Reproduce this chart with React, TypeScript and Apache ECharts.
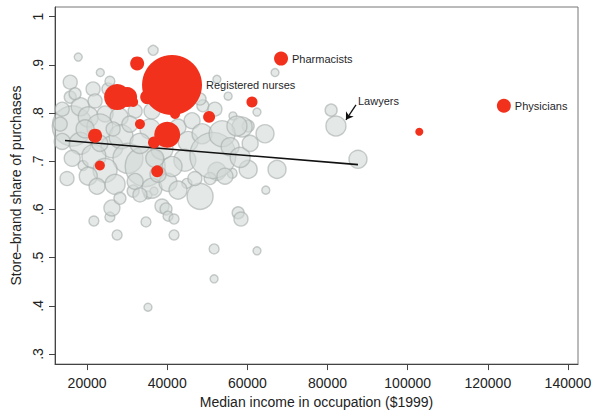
import React, { useEffect, useRef } from "react";
import * as echarts from "echarts";

// Tick values
const xTicks = [20000, 40000, 60000, 80000, 100000, 120000, 140000];
const yTicks = [0.3, 0.4, 0.5, 0.6, 0.7, 0.8, 0.9, 1.0];

// Gray occupations: [median income, store-brand share, workers (thousands)]
const grayOccupations: number[][] = [
  [17800, 0.916, 38], [36500, 0.930, 59], [23300, 0.884, 38], [15800, 0.864, 116],
  [15800, 0.833, 85], [21500, 0.850, 116], [25200, 0.850, 85], [25700, 0.866, 59],
  [52400, 0.870, 38], [55200, 0.835, 38], [48900, 0.815, 85], [62400, 0.802, 38],
  [56400, 0.794, 38], [64400, 0.757, 192], [60200, 0.773, 85], [58700, 0.771, 237],
  [66900, 0.884, 38], [80900, 0.806, 85], [82100, 0.773, 237], [87600, 0.704, 192],
  [67400, 0.683, 192], [64600, 0.640, 38], [60200, 0.683, 192], [56200, 0.675, 59],
  [52400, 0.679, 192], [50700, 0.664, 85], [44900, 0.654, 59], [48200, 0.627, 400],
  [57700, 0.593, 85], [58400, 0.580, 116], [51700, 0.518, 59], [51700, 0.456, 38],
  [62400, 0.514, 38], [35200, 0.397, 38], [21700, 0.576, 59], [25700, 0.584, 59],
  [26200, 0.603, 151], [27500, 0.547, 59], [34700, 0.574, 59], [38700, 0.607, 116],
  [39700, 0.601, 85], [40200, 0.586, 59], [41700, 0.580, 59], [41700, 0.547, 59],
  [31500, 0.638, 85], [35200, 0.630, 38], [36700, 0.638, 38], [15000, 0.664, 116],
  [19000, 0.691, 59],
  [16300, 0.773, 947], [13800, 0.808, 116], [18300, 0.813, 192], [22000, 0.825, 116],
  [20300, 0.792, 237], [24500, 0.798, 151], [13800, 0.741, 151], [18300, 0.737, 286],
  [23200, 0.771, 400], [28000, 0.792, 192], [26200, 0.730, 286], [21700, 0.710, 341],
  [16300, 0.706, 151], [28500, 0.751, 341], [30200, 0.706, 533], [34500, 0.689, 947],
  [24500, 0.681, 341], [20300, 0.669, 192], [22500, 0.648, 151], [27000, 0.652, 237],
  [32000, 0.658, 151], [36200, 0.644, 237], [40200, 0.656, 192], [38700, 0.726, 286],
  [35700, 0.767, 237], [32000, 0.804, 116], [30700, 0.829, 85], [36200, 0.804, 151],
  [42700, 0.771, 151], [45200, 0.741, 237], [46200, 0.784, 151], [48700, 0.757, 237],
  [44400, 0.702, 286], [41200, 0.689, 237], [37700, 0.673, 151], [51400, 0.712, 1252],
  [53700, 0.757, 400], [57400, 0.773, 237], [48200, 0.829, 85], [51900, 0.808, 116],
  [46900, 0.664, 116], [42700, 0.640, 192], [28200, 0.623, 85], [33200, 0.630, 116],
  [13300, 0.777, 116], [17000, 0.840, 85], [19500, 0.767, 192], [33200, 0.737, 237],
  [40700, 0.753, 116], [55700, 0.730, 192], [58200, 0.708, 237], [60700, 0.737, 151],
  [54400, 0.669, 151], [26500, 0.767, 116], [36900, 0.706, 192], [23200, 0.737, 151],
  [30700, 0.777, 151], [41900, 0.808, 85],
];

// Highlighted (health) occupations
const redNames = [
  "Pharmacists", "Registered nurses", "Physicians", "", "", "", "", "", "", "",
  "", "", "", "", "", "", "", "",
];
const redIncome = [
  68400, 41200, 124000, 102900, 32500, 27500, 30000, 31500, 35000, 41950,
  61150, 50450, 33200, 22000, 40000, 36700, 23200, 37500,
];
const redShare = [
  0.913, 0.858, 0.815, 0.761, 0.903, 0.833, 0.833, 0.823, 0.833, 0.798,
  0.823, 0.792, 0.777, 0.753, 0.755, 0.739, 0.691, 0.679,
];
const redWorkers = [
  116, 2130, 116, 38, 116, 400, 237, 59, 116, 59,
  72, 85, 59, 116, 400, 85, 59, 85,
];

// Fitted regression line endpoints
const fitIncome = [14500, 87600];
const fitShare = [0.743, 0.693];

// Lawyers annotation (label anchor and arrow, in data units)
const lawyersLabel = [87600, 0.825];
const lawyersArrowFrom = [87100, 0.817];
const lawyersArrowTo = [84600, 0.786];

const FONT = "'Liberation Sans', Arial, Helvetica, sans-serif";
const sizeOf = (v: number[]) => Math.sqrt(v[2]) * 1.3;

export default function App() {
  const ref = useRef<HTMLDivElement>(null);
  useEffect(() => {
    document.body.style.margin = "0";
    if (!ref.current) return;
    const chart = echarts.init(ref.current, null, { renderer: "svg" });
    const redData = redIncome.map((x, i) => ({
      value: [x, redShare[i], redWorkers[i]],
      name: redNames[i],
      label: {
        show: redNames[i] !== "",
        position: "right",
        distance: 4,
        formatter: "{b}",
        color: "#1f1f2a",
        fontSize: 11,
        fontFamily: FONT,
      },
    }));
    chart.setOption({
      animation: false,
      grid: {
        left: 55,
        right: 17,
        top: 7,
        bottom: 47,
        show: true,
        borderColor: "#777",
        borderWidth: 1,
        backgroundColor: "#fff",
      },
      xAxis: {
        type: "value",
        min: 12000,
        max: 142500,
        name: "Median income in occupation ($1999)",
        nameLocation: "middle",
        nameGap: 30,
        nameTextStyle: { fontFamily: FONT, fontSize: 14, color: "#222" },
        axisLine: { show: true, lineStyle: { color: "#444", width: 1 } },
        axisTick: { show: true, customValues: xTicks, length: 6, lineStyle: { color: "#444" } },
        axisLabel: {
          customValues: xTicks,
          margin: 12,
          fontFamily: FONT,
          fontSize: 14,
          color: "#222",
          formatter: (v: number) => String(Math.round(v)),
        },
        splitLine: { show: false },
      },
      yAxis: {
        type: "value",
        min: 0.279,
        max: 1.02,
        name: "Store–brand share of purchases",
        nameLocation: "middle",
        nameGap: 30,
        nameTextStyle: { fontFamily: FONT, fontSize: 14, color: "#222" },
        axisLine: { show: true, lineStyle: { color: "#444", width: 1 } },
        axisTick: { show: true, customValues: yTicks, length: 6, lineStyle: { color: "#444" } },
        axisLabel: {
          customValues: yTicks,
          rotate: 90,
          margin: 10,
          fontFamily: FONT,
          fontSize: 14,
          color: "#222",
          formatter: (v: number) => (v >= 0.999 ? "1" : v.toFixed(1).replace(/^0/, "")),
        },
        splitLine: { show: false },
      },
      series: [
        {
          type: "scatter",
          data: grayOccupations,
          symbolSize: sizeOf,
          itemStyle: {
            color: "rgb(210,216,214)",
            opacity: 0.6,
            borderColor: "#a3acaa",
            borderWidth: 1.4,
          },
          z: 2,
        },
        {
          type: "line",
          data: fitIncome.map((x, i) => [x, fitShare[i]]),
          showSymbol: false,
          symbol: "none",
          lineStyle: { color: "#111", width: 1.6 },
          z: 3,
        },
        {
          type: "scatter",
          data: redData,
          symbolSize: sizeOf,
          itemStyle: { color: "#f2311d", opacity: 1 },
          z: 4,
        },
        {
          type: "scatter",
          data: [{ value: lawyersLabel, name: "Lawyers" }],
          symbolSize: 0,
          itemStyle: { opacity: 1, color: "#1f1f2a" },
          label: {
            show: true,
            position: "right",
            distance: 0,
            formatter: "{b}",
            color: "#1f1f2a",
            fontSize: 11,
            fontFamily: FONT,
          },
          markLine: {
            silent: true,
            symbol: ["none", "arrow"],
            symbolSize: 7,
            label: { show: false },
            lineStyle: { color: "#111", width: 1.3, type: "solid", opacity: 1 },
            data: [[{ coord: lawyersArrowFrom }, { coord: lawyersArrowTo }]],
          },
          z: 5,
        },
      ],
    });
    return () => chart.dispose();
  }, []);
  return (
    <div
      ref={ref}
      style={{ width: 595, height: 414, position: "absolute", left: 0, top: 0 }}
    />
  );
}
